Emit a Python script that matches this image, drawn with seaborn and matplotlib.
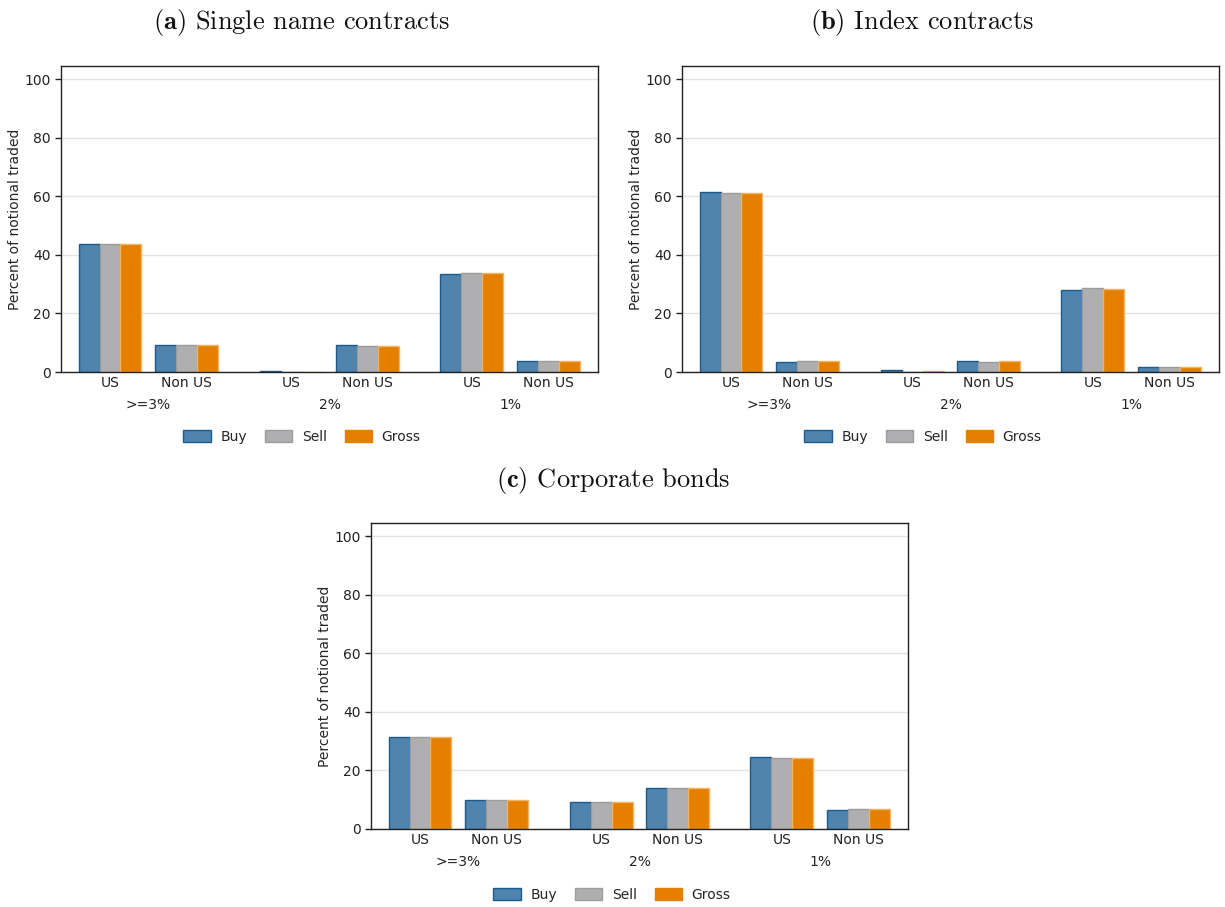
import numpy as np
import pandas as pd
import matplotlib
matplotlib.use("Agg")
import matplotlib.pyplot as plt
from matplotlib.patches import Patch
import seaborn as sns

# ---- data -------------------------------------------------------------
regions = ["US", "Non US", "US", "Non US", "US", "Non US"]
groups = [">=3%", "2%", "1%"]
sides = ["Buy", "Sell", "Gross"]

single_buy = [43.6, 9.2, 0.2, 9.2, 33.6, 3.8]
single_sell = [43.8, 9.2, 0.0, 8.9, 33.9, 3.6]
single_gross = [43.8, 9.2, 0.1, 8.9, 33.8, 3.7]

index_buy = [61.3, 3.4, 0.6, 3.7, 28.1, 1.7]
index_sell = [61.0, 3.7, 0.0, 3.4, 28.8, 1.6]
index_gross = [61.0, 3.7, 0.2, 3.6, 28.4, 1.6]

bond_buy = [31.3, 9.9, 9.3, 14.0, 24.6, 6.5]
bond_sell = [31.3, 9.9, 9.3, 14.0, 24.3, 6.7]
bond_gross = [31.3, 9.9, 9.3, 14.0, 24.3, 6.7]

titles = ["Single name contracts", "Index contracts", "Corporate bonds"]
tags = ["(a)", "(b)", "(c)"]

# ---- styling ------------------------------------------------------------
sns.set_theme(style="white")
plt.rcParams["font.family"] = ["DejaVu Sans"]
plt.rcParams["mathtext.fontset"] = "cm"

fill = {"Buy": "#4e84ad", "Sell": "#afafb1", "Gross": "#e57f00"}
edge = {"Buy": "#1d5b8e", "Sell": "#9c9c9c", "Gross": "#f0b468"}

# slot positions: pairs of US/Non US with a wider gap between groups
slot_pos = np.array([0.0, 1.0, 2.37, 3.37, 4.73, 5.73])

W, H = 1225, 907
fig = plt.figure(figsize=(W / 100, H / 100), dpi=100)


def px_axes(left, top, right, bottom):
    return fig.add_axes([left / W, 1 - bottom / H, (right - left) / W, (bottom - top) / H])


def draw_panel(ax, buy, sell, gross):
    df = pd.DataFrame({
        "pos": np.tile(slot_pos, 3),
        "value": buy + sell + gross,
        "side": np.repeat(sides, len(slot_pos)),
    })
    sns.barplot(data=df, x="pos", y="value", hue="side", hue_order=sides,
                palette=fill, saturation=1, native_scale=True, width=0.82,
                dodge=True, linewidth=1.0, legend=False, ax=ax, errorbar=None)
    for cont, s in zip(ax.containers, sides):
        for bar in cont:
            bar.set_edgecolor(edge[s])
            bar.set_linewidth(1.0)
    ax.set_xlim(-0.64, 6.38)
    ax.set_ylim(0, 104.5)
    ax.set_yticks([0, 20, 40, 60, 80, 100])
    ax.set_xticks(slot_pos)
    ax.set_xticklabels(regions)
    ax.set_xlabel("")
    ax.set_ylabel("Percent of notional traded", fontsize=10, labelpad=1.5)
    ax.tick_params(axis="x", length=0, labelsize=10, pad=3, colors="#222222")
    ax.tick_params(axis="y", length=4, width=1, labelsize=10, direction="out",
                   left=True, colors="#222222")
    ax.yaxis.grid(True, color="#e3e3e3", linewidth=1)
    ax.set_axisbelow(True)
    for sp in ax.spines.values():
        sp.set_visible(True)
        sp.set_color("#222222")
        sp.set_linewidth(1.0)
    trans = matplotlib.transforms.blended_transform_factory(ax.transData, ax.transAxes)
    centers = [(slot_pos[0] + slot_pos[1]) / 2,
               (slot_pos[2] + slot_pos[3]) / 2,
               (slot_pos[4] + slot_pos[5]) / 2]
    for g, c in zip(groups, centers):
        ax.annotate(g, xy=(c, 0), xycoords=trans, xytext=(0, -19),
                    textcoords="offset points", ha="center", va="top",
                    fontsize=10, color="#222222")


def add_legend(cx, cy):
    handles = [Patch(facecolor=fill[s], edgecolor=edge[s] if s != "Gross" else fill[s],
                     linewidth=1.0, label=s) for s in sides]
    fig.legend(handles=handles, loc="center", bbox_to_anchor=(cx / W, 1 - cy / H),
               ncol=3, frameon=False, fontsize=10, handlelength=1.95, handleheight=0.95,
               columnspacing=1.3, handletextpad=0.7)


def add_title(tag, text, cx, cy):
    fig.text(cx / W, 1 - cy / H, r"$\mathbf{" + tag + "}$ " + text,
             fontfamily="cmr10", fontsize=19, ha="center", va="center",
             color="#111111")


ax_a = px_axes(61, 66, 598, 372)
draw_panel(ax_a, single_buy, single_sell, single_gross)
add_title(tags[0], titles[0], 301, 22)
add_legend(302, 437)

ax_b = px_axes(682, 66, 1219, 372)
draw_panel(ax_b, index_buy, index_sell, index_gross)
add_title(tags[1], titles[1], 922, 22)
add_legend(923, 437)

ax_c = px_axes(371, 523, 908, 829)
draw_panel(ax_c, bond_buy, bond_sell, bond_gross)
add_title(tags[2], titles[2], 613, 481)
add_legend(612, 895)

fig.savefig("out.png", dpi=100, facecolor="white")
